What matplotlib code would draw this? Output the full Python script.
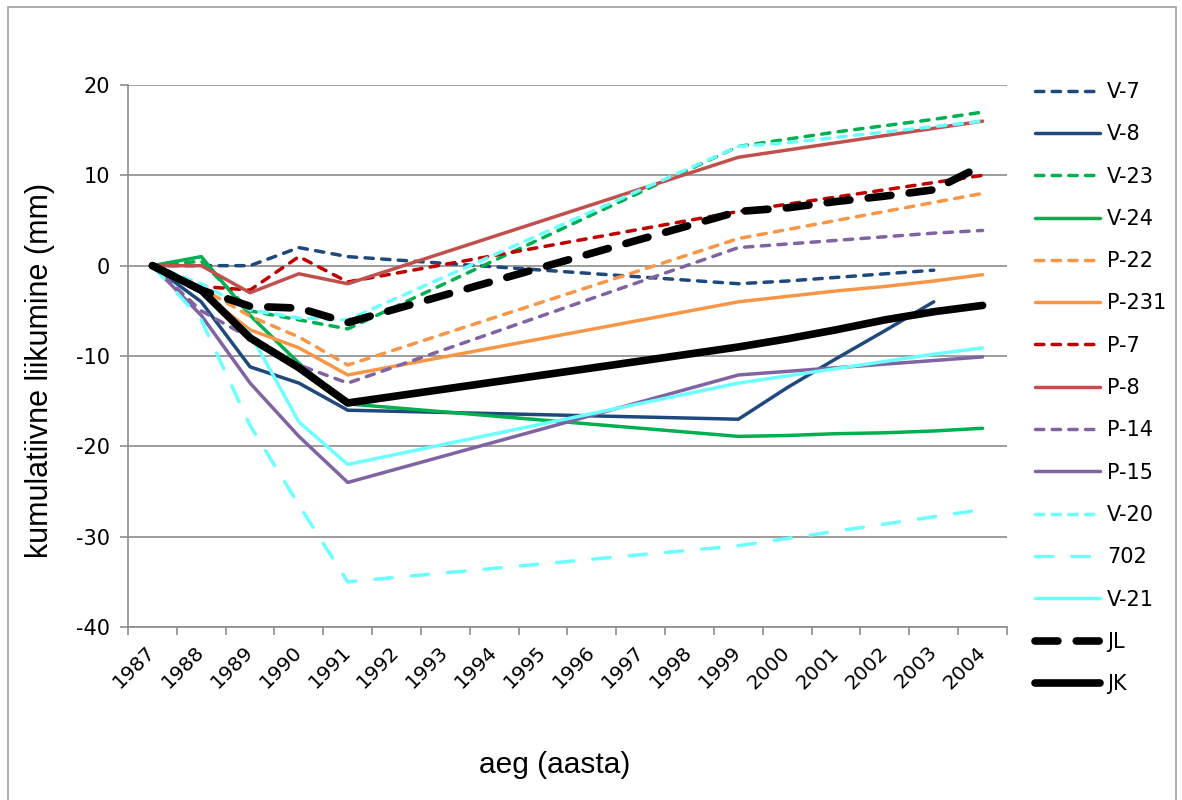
import matplotlib
matplotlib.use("Agg")
import matplotlib.pyplot as plt
from matplotlib.patches import Rectangle

plt.rcParams["axes.unicode_minus"] = False

# category axis: every year from 1987 to 2004
years = [str(y) for y in range(1987, 2005)]
# years that have a measurement (gaps are bridged by the line)
meas_years = [1987, 1988, 1989, 1990, 1991, 1999, 2000, 2001, 2002, 2003, 2004]

v7 = [0, 0, 0, 2, 1, -2, -1.7, -1.3, -0.9, -0.5, None]
v8 = [0, -4, -11.2, -13, -16, -17, -13.5, -10.3, -7.2, -4, None]
v23 = [0, 0.5, -5, -6, -7, 13.2, 14, 14.8, 15.5, 16.2, 17]
v24 = [0, 1, -5.5, -10.8, -15.3, -18.9, -18.8, -18.6, -18.5, -18.3, -18]
p22 = [0, -2.5, -5.6, -7.9, -11, 3, 4, 5, 6, 7, 8]
p231 = [0, -3, -7.1, -9.1, -12.1, -4, -3.4, -2.8, -2.3, -1.7, -1]
p7 = [0, -2.3, -2.7, 1, -1.8, 6, 6.8, 7.6, 8.4, 9.2, 10]
p8 = [0, 0, -3, -0.9, -2, 12, 12.8, 13.6, 14.4, 15.2, 16]
p14 = [0, -5, -8, -11, -13, 2, 2.4, 2.8, 3.2, 3.6, 3.9]
p15 = [0, -5.5, -13, -18.9, -24, -12.1, -11.7, -11.3, -10.9, -10.5, -10.1]
v20 = [0, -2, -4.9, -5.8, -6, 13.2, 13.6, 14.2, 14.8, 15.4, 16]
s702 = [0, -6, -17.7, -26.5, -35, -31, -30.2, -29.4, -28.6, -27.8, -27]
v21 = [0, -3, -7.5, -17.3, -22, -13, -12.2, -11.4, -10.6, -9.8, -9.1]
jl = [0, -2.7, -4.5, -4.7, -6.3, 6, 6.4, 7.1, 7.7, 8.4, 11.1]
jk = [0, -2.7, -8, -11.3, -15.2, -9, -8.1, -7.1, -6, -5.1, -4.4]

# label, values, colour, width (pt), dash pattern (None = solid)
series = [
    ("V-7", v7, "#1F497D", 2.5, (2.4, 2.4)),
    ("V-8", v8, "#1F497D", 2.5, None),
    ("V-23", v23, "#00B050", 2.5, (2.4, 2.4)),
    ("V-24", v24, "#00B050", 2.5, None),
    ("P-22", p22, "#F79646", 2.5, (2.4, 2.4)),
    ("P-231", p231, "#F79646", 2.5, None),
    ("P-7", p7, "#C00000", 2.5, (2.4, 2.4)),
    ("P-8", p8, "#C0504D", 2.5, None),
    ("P-14", p14, "#8064A2", 2.5, (2.4, 2.4)),
    ("P-15", p15, "#8064A2", 2.5, None),
    ("V-20", v20, "#6CFFFF", 2.5, (2.4, 2.4)),
    ("702", s702, "#6CFFFF", 2.5, (5.0, 5.5)),
    ("V-21", v21, "#6CFFFF", 2.5, None),
    ("JL", jl, "#000000", 5.5, (3.0, 2.4)),
    ("JK", jk, "#000000", 5.5, None),
]

fig = plt.figure(figsize=(11.82, 8), dpi=100)
ax = fig.add_axes([128 / 1182, 1 - 627 / 800, 879 / 1182, 542 / 800])

for label, vals, color, lw, dashes in series:
    xs = [years.index(str(y)) for y, v in zip(meas_years, vals) if v is not None]
    ys = [v for v in vals if v is not None]
    line, = ax.plot(xs, ys, color=color, lw=lw, label=label,
                    solid_capstyle="round", dash_capstyle="round",
                    solid_joinstyle="round")
    if dashes is not None:
        line.set_dashes(dashes)

grid_c = "#8C8C8C"
ax.set_xlim(-0.5, len(years) - 0.5)
ax.set_ylim(-40, 20)
ax.set_yticks(range(-40, 21, 10))
ax.yaxis.grid(True, color=grid_c, lw=1.2)
ax.set_axisbelow(True)

ax.set_xticks(range(len(years)))
ax.set_xticklabels(years, rotation=45, ha="right", va="center",
                   rotation_mode="anchor", fontsize=14.5, family="DejaVu Sans")
ax.set_xticks([i - 0.5 for i in range(len(years) + 1)], minor=True)
ax.tick_params(axis="x", which="major", length=0, pad=16)
ax.tick_params(axis="x", which="minor", length=6, color=grid_c, width=1.2)
ax.tick_params(axis="y", length=6, color=grid_c, width=1.2, labelsize=15, pad=7)

for side in ("top", "right"):
    ax.spines[side].set_visible(False)
for side in ("left", "bottom"):
    ax.spines[side].set_color(grid_c)
    ax.spines[side].set_linewidth(1.2)

fig.text(555 / 1182, 1 - 765 / 800, "aeg (aasta)", ha="center", va="center",
         fontsize=21.5, family="Liberation Sans")
fig.text(40 / 1182, 1 - 370 / 800, "kumulatiivne liikumine (mm)", rotation=90,
         ha="center", va="center", fontsize=22, family="Liberation Sans")

fig.legend(loc="upper left", bbox_to_anchor=(1035 / 1182, 1 - 82 / 800),
           frameon=False, fontsize=15, handlelength=3.1, handletextpad=0.35,
           labelspacing=1.07, borderpad=0, borderaxespad=0)

fig.patches.append(Rectangle((8 / 1182, -0.05), 1168 / 1182, 1.05 - 7 / 800,
                             transform=fig.transFigure, fill=False,
                             edgecolor="#A0A0A0", lw=1.2))

fig.savefig("out.png", dpi=100)
